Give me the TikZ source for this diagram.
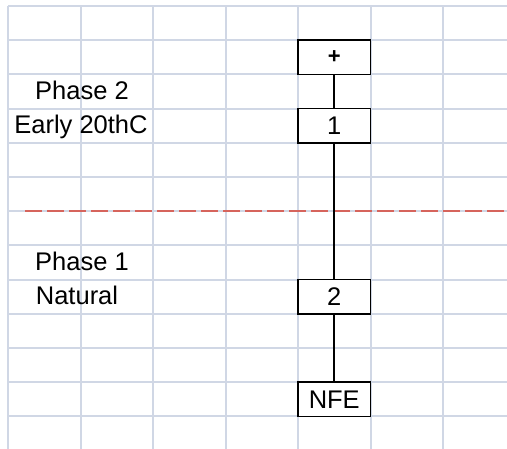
\documentclass[tikz,border=0pt]{standalone}
\usepackage{fontspec}
\setmainfont{Liberation Sans}
\definecolor{gridc}{RGB}{208,215,229}
\definecolor{dashred}{RGB}{214,100,92}
\begin{document}
\begin{tikzpicture}[x=1pt,y=-1pt,
  gridline/.style={draw=gridc,line width=2pt},
  cellbox/.style={draw=black,fill=white,line width=1.6pt,minimum width=72.5pt,minimum height=34.2pt,inner sep=0pt,font=\fontsize{25.5}{30}\selectfont},
  lbl/.style={anchor=base,inner sep=0pt,font=\fontsize{25.5}{30}\selectfont},
  conn/.style={draw=black,line width=1.6pt},
  phaseline/.style={draw=dashred,line width=2.2pt,dash pattern=on 17pt off 5pt}]
\fill[white] (0,0) rectangle (507,449);
\useasboundingbox (0,0) rectangle (507,449);
% grid
\foreach \k in {0,...,13} {
  \draw[gridline] (8,6+34.2*\k) -- (507,6+34.2*\k);
}
\foreach \c in {0,...,6} {
  \draw[gridline] (8+72.5*\c,6) -- (8+72.5*\c,449);
}
% phase divider
\coordinate (dl) at (25,211.2);
\coordinate (dr) at (507,211.2);
\draw[phaseline] (dl) -- (dr);
% labels
\node[lbl] (p2) at (82,99.6) {Phase 2};
\node[lbl] (e20) at (81,133.4) {Early 20thC};
\node[lbl] (p1) at (82,270.6) {Phase 1};
\node[lbl] (nat) at (77,304.8) {Natural};
% boxes
\node[cellbox,font=\fontsize{22}{26}\selectfont\bfseries] (plus) at (334.25,57.3) {+};
\node[cellbox] (b1) at (334.25,125.7) {1};
\node[cellbox] (b2) at (334.25,296.7) {2};
\node[cellbox] (nfe) at (334.25,399.3) {NFE};
% connectors
\draw[conn] (plus) -- (b1);
\draw[conn] (b1) -- (b2);
\draw[conn] (b2) -- (nfe);
\end{tikzpicture}
\end{document}
